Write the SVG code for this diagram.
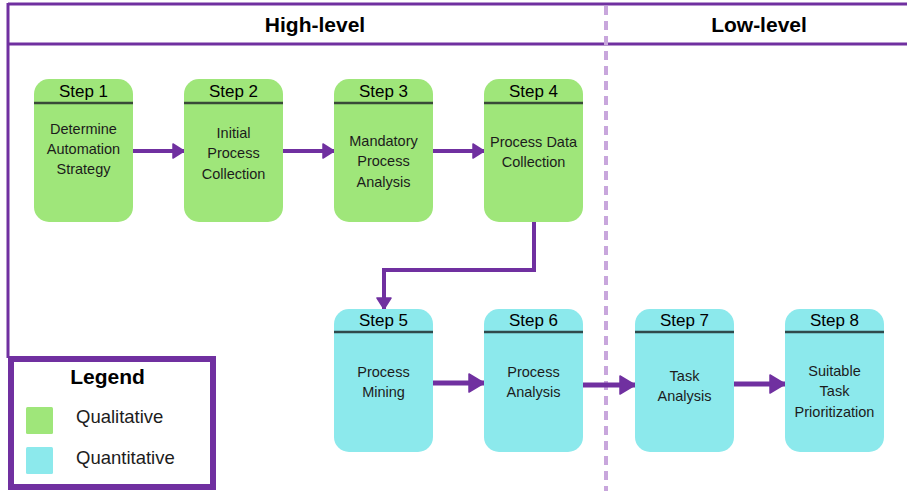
<svg xmlns="http://www.w3.org/2000/svg" width="907" height="491" viewBox="0 0 907 491">
  <style>
    .frame { stroke: #7030a0; stroke-width: 3; fill: none; }
    .divider { stroke: #c8a6dc; stroke-width: 4; stroke-dasharray: 9 6; fill: none; }
    .hdr { font-family: "Liberation Sans", Arial, sans-serif; font-weight: bold; font-size: 21px; fill: #000; text-anchor: middle; }
    .qual { fill: #9fe67a; }
    .quant { fill: #8ce9ec; }
    .sep { stroke: #394a38; stroke-width: 2.5; }
    .sepq { stroke: #2f4a4b; stroke-width: 2.5; }
    .step { font-family: "Liberation Sans", Arial, sans-serif; font-size: 17px; fill: #000; text-anchor: middle; }
    .body { font-family: "Liberation Sans", Arial, sans-serif; font-size: 14.5px; fill: #1c1c1c; text-anchor: middle; }
    .conn { stroke: #7030a0; fill: none; }
    .thin { stroke-width: 4; }
    .thick { stroke-width: 5; }
    .legtitle { font-family: "Liberation Sans", Arial, sans-serif; font-weight: bold; font-size: 21px; fill: #000; text-anchor: middle; }
    .legtext { font-family: "Liberation Sans", Arial, sans-serif; font-size: 18.5px; fill: #1c1c1c; }
  </style>
  <defs>
    <marker id="headS" markerUnits="userSpaceOnUse" markerWidth="14" markerHeight="18" refX="12" refY="8" orient="auto">
      <path d="M1 1 L12 8 L1 15 Z" fill="#7030a0" stroke="#7030a0" stroke-width="1.5" stroke-linejoin="round"/>
    </marker>
    <marker id="headL" markerUnits="userSpaceOnUse" markerWidth="18" markerHeight="22" refX="16" refY="10" orient="auto">
      <path d="M1 1 L16 10 L1 19 Z" fill="#7030a0" stroke="#7030a0" stroke-width="1.5" stroke-linejoin="round"/>
    </marker>
  </defs>

  <rect width="907" height="491" fill="#ffffff"/>

  <!-- swimlane frame -->
  <g id="frame">
    <line class="frame" x1="8" y1="4" x2="907" y2="4"/>
    <line class="frame" x1="8" y1="44" x2="907" y2="44"/>
    <line class="frame" x1="8" y1="3" x2="8" y2="358"/>
    <line class="divider" x1="606" y1="6" x2="606" y2="491"/>
    <text class="hdr" x="315" y="32">High-level</text>
    <text class="hdr" x="759" y="32">Low-level</text>
  </g>

  <!-- connectors -->
  <g id="connectors">
    <path class="conn thin" d="M133 151 H184" marker-end="url(#headS)"/>
    <path class="conn thin" d="M283 151 H334" marker-end="url(#headS)"/>
    <path class="conn thin" d="M432 151 H484" marker-end="url(#headS)"/>
    <path class="conn thin" d="M534 222 V270 H384 V309" marker-end="url(#headS)"/>
    <path class="conn thick" d="M433 383 H484" marker-end="url(#headL)"/>
    <path class="conn thick" d="M583 385 H635" marker-end="url(#headL)"/>
    <path class="conn thick" d="M734 384 H785" marker-end="url(#headL)"/>
  </g>

  <!-- process steps -->
  <g id="step1">
    <rect class="qual" x="34" y="79" width="99" height="143" rx="15"/>
    <line class="sep" x1="34" y1="103" x2="133" y2="103"/>
    <text class="step" x="83.5" y="97">Step 1</text>
    <text class="body" x="83.5" y="134">Determine</text>
    <text class="body" x="83.5" y="154">Automation</text>
    <text class="body" x="83.5" y="174">Strategy</text>
  </g>
  <g id="step2">
    <rect class="qual" x="184" y="79" width="99" height="143" rx="15"/>
    <line class="sep" x1="184" y1="103" x2="283" y2="103"/>
    <text class="step" x="233.5" y="97">Step 2</text>
    <text class="body" x="233.5" y="138">Initial</text>
    <text class="body" x="233.5" y="158">Process</text>
    <text class="body" x="233.5" y="179">Collection</text>
  </g>
  <g id="step3">
    <rect class="qual" x="334" y="79" width="99" height="143" rx="15"/>
    <line class="sep" x1="334" y1="103" x2="433" y2="103"/>
    <text class="step" x="383.5" y="97">Step 3</text>
    <text class="body" x="383.5" y="146">Mandatory</text>
    <text class="body" x="383.5" y="166">Process</text>
    <text class="body" x="383.5" y="187">Analysis</text>
  </g>
  <g id="step4">
    <rect class="qual" x="484" y="79" width="99" height="143" rx="15"/>
    <line class="sep" x1="484" y1="103" x2="583" y2="103"/>
    <text class="step" x="533.5" y="97">Step 4</text>
    <text class="body" x="533.5" y="147">Process Data</text>
    <text class="body" x="533.5" y="167">Collection</text>
  </g>
  <g id="step5">
    <rect class="quant" x="334" y="309" width="99" height="143" rx="15"/>
    <line class="sepq" x1="334" y1="332" x2="433" y2="332"/>
    <text class="step" x="383.5" y="326">Step 5</text>
    <text class="body" x="383.5" y="377">Process</text>
    <text class="body" x="383.5" y="397">Mining</text>
  </g>
  <g id="step6">
    <rect class="quant" x="484" y="309" width="99" height="143" rx="15"/>
    <line class="sepq" x1="484" y1="332" x2="583" y2="332"/>
    <text class="step" x="533.5" y="326">Step 6</text>
    <text class="body" x="533.5" y="377">Process</text>
    <text class="body" x="533.5" y="397">Analysis</text>
  </g>
  <g id="step7">
    <rect class="quant" x="635" y="309" width="99" height="143" rx="15"/>
    <line class="sepq" x1="635" y1="332" x2="734" y2="332"/>
    <text class="step" x="684.5" y="326">Step 7</text>
    <text class="body" x="684.5" y="381">Task</text>
    <text class="body" x="684.5" y="401">Analysis</text>
  </g>
  <g id="step8">
    <rect class="quant" x="785" y="309" width="99" height="143" rx="15"/>
    <line class="sepq" x1="785" y1="332" x2="884" y2="332"/>
    <text class="step" x="834.5" y="326">Step 8</text>
    <text class="body" x="834.5" y="376">Suitable</text>
    <text class="body" x="834.5" y="396">Task</text>
    <text class="body" x="834.5" y="417">Prioritization</text>
  </g>

  <!-- legend -->
  <g id="legend">
    <rect x="11" y="359" width="202" height="128" fill="#ffffff" stroke="#7030a0" stroke-width="6"/>
    <text class="legtitle" x="107.5" y="384">Legend</text>
    <rect class="qual" x="26" y="407" width="27" height="27" rx="1.5"/>
    <text class="legtext" x="76" y="423">Qualitative</text>
    <rect class="quant" x="26" y="447" width="27" height="27" rx="1.5"/>
    <text class="legtext" x="76" y="464">Quantitative</text>
  </g>
</svg>
